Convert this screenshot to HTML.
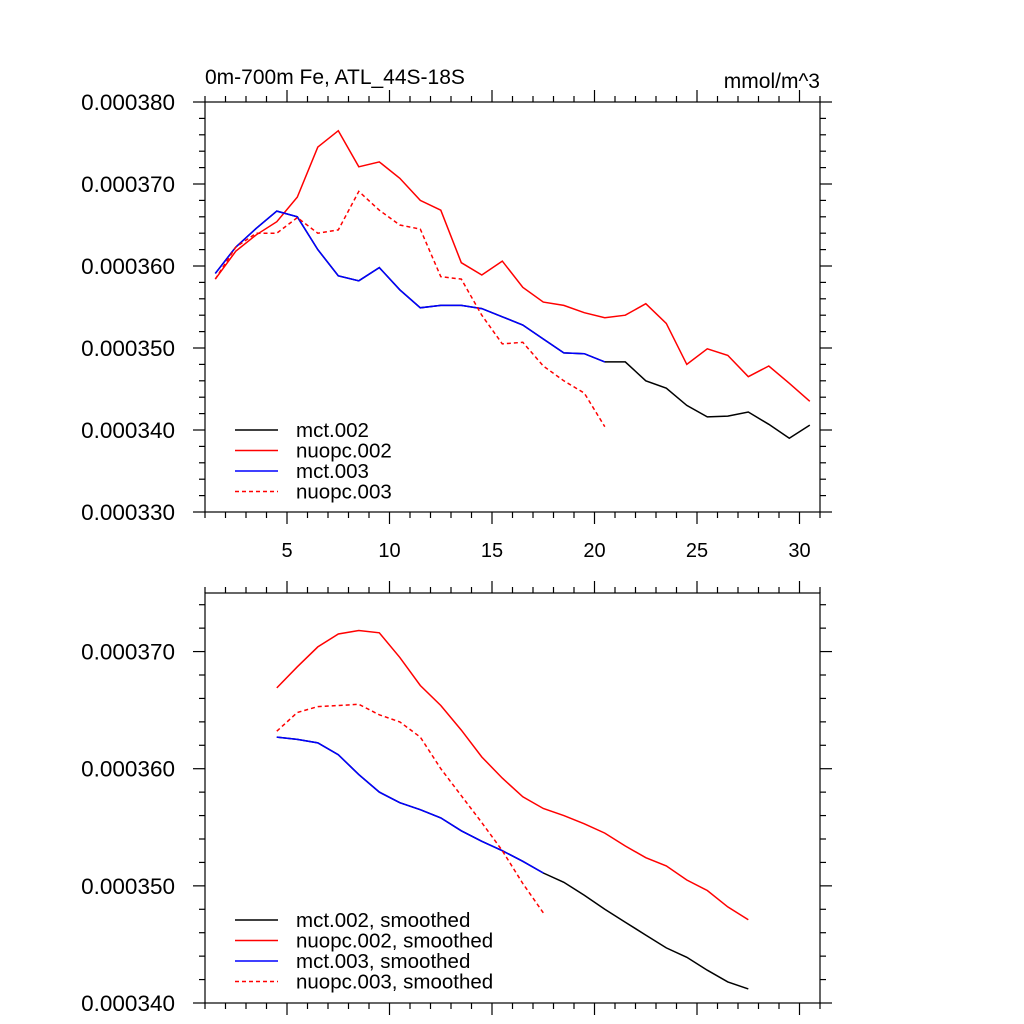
<!DOCTYPE html>
<html><head><meta charset="utf-8"><style>
html,body{margin:0;padding:0;background:#fff;}
svg{display:block;font-family:"Liberation Sans",sans-serif;}
</style></head><body>
<svg id="chart" width="1024" height="1024" xmlns="http://www.w3.org/2000/svg">
<text x="205" y="84" font-size="21">0m-700m Fe, ATL_44S-18S</text>
<text x="820" y="88" font-size="21" text-anchor="end">mmol/m^3</text>
<g id="g1"></g>
<g id="g2"></g>
</svg>
<script>
const xTop = [1.5,2.5,3.5,4.5,5.5,6.5,7.5,8.5,9.5,10.5,11.5,12.5,13.5,14.5,15.5,16.5,17.5,18.5,19.5,20.5,21.5,22.5,23.5,24.5,25.5,26.5,27.5,28.5,29.5,30.5];
const mct002 = [359.1,362.3,364.6,366.7,366.0,362.0,358.8,358.2,359.8,357.1,354.9,355.2,355.2,354.8,353.8,352.8,351.1,349.4,349.3,348.3,348.3,346.0,345.1,343.0,341.6,341.7,342.2,340.7,339.0,340.6];
const nuopc002 = [358.4,361.8,363.8,365.4,368.4,374.5,376.5,372.1,372.7,370.7,368.0,366.8,360.4,358.9,360.6,357.4,355.6,355.2,354.3,353.7,354.0,355.4,353.0,348.0,349.9,349.1,346.5,347.8,345.7,343.5];
const mct003 = [359.1,362.3,364.6,366.7,366.0,362.0,358.8,358.2,359.8,357.1,354.9,355.2,355.2,354.8,353.8,352.8,351.1,349.4,349.3,348.3];
const nuopc003 = [358.4,362.3,364.0,364.0,365.9,364.0,364.4,369.1,366.8,365.0,364.5,358.7,358.4,354.0,350.5,350.7,347.8,346.0,344.5,340.4];
const xBot = [4.5,5.5,6.5,7.5,8.5,9.5,10.5,11.5,12.5,13.5,14.5,15.5,16.5,17.5,18.5,19.5,20.5,21.5,22.5,23.5,24.5,25.5,26.5,27.5];
const mct002s = [362.7,362.5,362.2,361.2,359.5,358.0,357.1,356.5,355.8,354.7,353.8,353.0,352.1,351.1,350.3,349.2,348.0,346.9,345.8,344.7,343.9,342.8,341.8,341.2];
const nuopc002s = [366.9,368.7,370.4,371.5,371.8,371.6,369.5,367.1,365.4,363.3,361.0,359.2,357.6,356.6,356.0,355.3,354.5,353.4,352.4,351.7,350.5,349.6,348.2,347.1];
const mct003s = [362.7,362.5,362.2,361.2,359.5,358.0,357.1,356.5,355.8,354.7,353.8,353.0,352.1,351.1];
const nuopc003s = [363.2,364.8,365.3,365.4,365.5,364.6,364.0,362.7,360.0,357.7,355.4,353.0,350.2,347.7];
const xTicks = [5,10,15,20,25,30];
const yTicksTop = [330,340,350,360,370,380];
const yTicksBot = [340,350,360,370];

const NS="http://www.w3.org/2000/svg";
function mk(parent,tag,attrs){const e=document.createElementNS(NS,tag);for(const k in attrs)e.setAttribute(k,attrs[k]);parent.appendChild(e);return e;}

function panel(g,y0,y1,ymin,ymax,showX,series,legend,ly,name){
  const X0=205,X1=820,xmin=1,xmax=31;
  const sx=v=>X0+(v-xmin)/(xmax-xmin)*(X1-X0);
  const sy=v=>y1-(v-ymin)/(ymax-ymin)*(y1-y0);
  const ax=mk(g,'g',{stroke:'#000','stroke-width':1.2});
  
  
  mk(ax,'rect',{x:X0,y:y0,width:X1-X0,height:y1-y0,fill:'none'});
  for(let v=xmin;v<=xmax;v++){
    const maj=v%5===0, L=maj?12:6, x=sx(v);
    mk(ax,'line',{x1:x,x2:x,y1:y1,y2:y1+L});
    mk(ax,'line',{x1:x,x2:x,y1:y0,y2:y0-L});
  }
  for(let v=ymin;v<=ymax+1e-9;v+=2){
    const maj=Math.abs(v%10)<1e-9, L=maj?12:6, y=sy(v);
    mk(ax,'line',{x1:X0,x2:X0-L,y1:y,y2:y});
    mk(ax,'line',{x1:X1,x2:X1+L,y1:y,y2:y});
  }
  if(showX){
    xTicks.forEach(v=>{
      const t=mk(g,'text',{x:sx(v),y:y1+45,'font-size':20,'text-anchor':'middle'});
      
      
      t.textContent=v;
    });
  }
  (name==='top'?yTicksTop:yTicksBot).forEach(v=>{
    const t=mk(g,'text',{x:175,y:sy(v)+8,'font-size':22.5,'text-anchor':'end'});
    
    
    t.textContent=(v/1e6).toFixed(6);
  });
  series.forEach(s=>{
    const d=s.v.map((v,i)=>(i?'L':'M')+sx(s.x[i]).toFixed(1)+','+sy(v).toFixed(1)).join(' ');
    const p=mk(g,'path',{d:d,fill:'none',stroke:s.c,'stroke-width':1.5,'stroke-dasharray':s.dash?'4,3':'none'});
    
    
  });
  legend.forEach((s,i)=>{
    const y=ly+i*20.5;
    const lg=mk(g,'g',{});
    
    
    mk(lg,'line',{x1:235,x2:278,y1:y,y2:y,stroke:s.c,'stroke-width':1.5,'stroke-dasharray':s.dash?'4,3':'none'});
    const t=mk(lg,'text',{x:296,y:y+7,'font-size':20.5});
    t.textContent=s.label;
  });
}
const seriesTop=[
 {x:xTop,v:mct002,c:'#000',n:'line-mct002',label:'mct.002'},
 {x:xTop,v:nuopc002,c:'#f00',n:'line-nuopc002',label:'nuopc.002'},
 {x:xTop,v:mct003,c:'#00f',n:'line-mct003',label:'mct.003'},
 {x:xTop,v:nuopc003,c:'#f00',dash:1,n:'line-nuopc003',label:'nuopc.003'}];
panel(document.getElementById('g1'),102,512,330,380,true,seriesTop,seriesTop,430,'top');
const seriesBot=[
 {x:xBot,v:mct002s,c:'#000',n:'line-mct002-smoothed',label:'mct.002, smoothed'},
 {x:xBot,v:nuopc002s,c:'#f00',n:'line-nuopc002-smoothed',label:'nuopc.002, smoothed'},
 {x:xBot,v:mct003s,c:'#00f',n:'line-mct003-smoothed',label:'mct.003, smoothed'},
 {x:xBot,v:nuopc003s,c:'#f00',dash:1,n:'line-nuopc003-smoothed',label:'nuopc.003, smoothed'}];
panel(document.getElementById('g2'),593,1003,340,375,false,seriesBot,seriesBot,920,'bottom');
</script>
</body></html>
